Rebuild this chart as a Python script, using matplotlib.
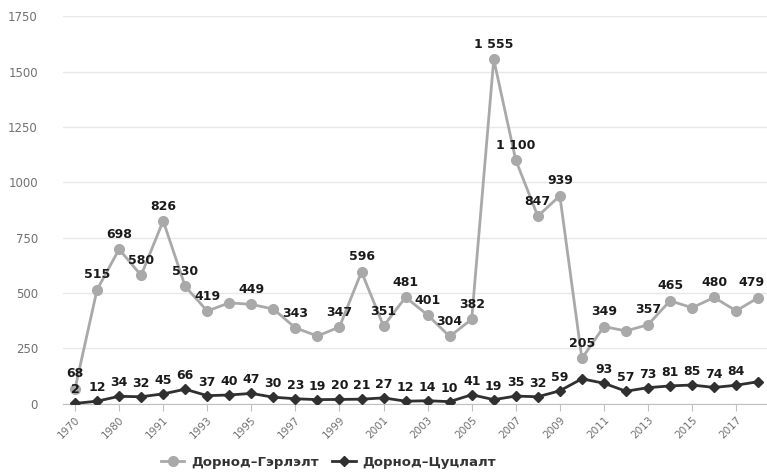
import matplotlib.pyplot as plt
import numpy as np

years = ["1970", "1975", "1980", "1990", "1991", "1992", "1993", "1994", "1995", "1996",
         "1997", "1998", "1999", "2000", "2001", "2002", "2003", "2004", "2005", "2006",
         "2007", "2008", "2009", "2010", "2011", "2012", "2013", "2014", "2015", "2016",
         "2017", "2018"]
marriage = [68, 515, 698, 580, 826, 530, 419, 456, 449, 428,
            343, 306, 347, 596, 351, 481, 401, 304, 382, 1555,
            1100, 847, 939, 205, 349, 329, 357, 465, 434, 480,
            420, 479]
divorce = [2, 12, 34, 32, 45, 66, 37, 40, 47, 30,
           23, 19, 20, 21, 27, 12, 14, 10, 41, 19,
           35, 32, 59, 113, 93, 57, 73, 81, 85, 74,
           84, 100]
# labels hidden in the original (overlap)
marriage_hidden = [7, 9, 11, 25, 28, 30]
divorce_hidden = [23, 31]

gray = "#a9a9a9"
dark = "#303030"

fig = plt.figure(figsize=(7.67, 4.74), dpi=100)
ax = fig.add_axes([0.082, 0.148, 0.918, 0.818])

x = np.arange(len(years))
ax.plot(x, marriage, color=gray, lw=2, marker="o", ms=7, label="Дорнод–Гэрлэлт", zorder=3)
ax.plot(x, divorce, color=dark, lw=2, marker="D", ms=5, label="Дорнод–Цуцлалт", zorder=4)


def fmt(v):
    return f"{v:,}".replace(",", " ")


for i, v in enumerate(marriage):
    if i in marriage_hidden:
        continue
    dx = -5 if i == len(marriage) - 1 else 0
    ax.annotate(fmt(v), (x[i], v), xytext=(dx, 6), textcoords="offset points",
                ha="center", va="bottom", fontsize=9, fontweight="bold", color="#1a1a1a", zorder=5)
for i, v in enumerate(divorce):
    if i in divorce_hidden:
        continue
    ax.annotate(fmt(v), (x[i], v), xytext=(0, 5), textcoords="offset points",
                ha="center", va="bottom", fontsize=9, fontweight="bold", color="#1a1a1a", zorder=5)

ax.set_ylim(0, 1750)
ax.set_yticks(np.arange(0, 1751, 250))
ax.set_xlim(-0.55, 31.4)
ax.set_xticks(x[::2])
ax.set_xticklabels(years[::2], rotation=45, ha="right", rotation_mode="anchor",
                   fontsize=7.5, color="#707070")
ax.tick_params(axis="y", length=0, labelsize=8.5, labelcolor="#707070", pad=18)
ax.tick_params(axis="x", length=5, color="#c0c0c0", pad=3)
ax.grid(axis="y", color="#e8e8e8", lw=1)
ax.set_axisbelow(True)
for s in ["top", "right", "left"]:
    ax.spines[s].set_visible(False)
ax.spines["bottom"].set_color("#c0c0c0")
for lab in ax.get_yticklabels():
    lab.set_ha("right")

leg = fig.legend(loc="center", bbox_to_anchor=(0.428, 0.025), ncol=2, frameon=False,
                 prop={"size": 9.5, "weight": "bold"}, handlelength=1.8, handletextpad=0.5,
                 columnspacing=1.0)
for t in leg.get_texts():
    t.set_color("#333333")

fig.savefig("out.png", dpi=100)
